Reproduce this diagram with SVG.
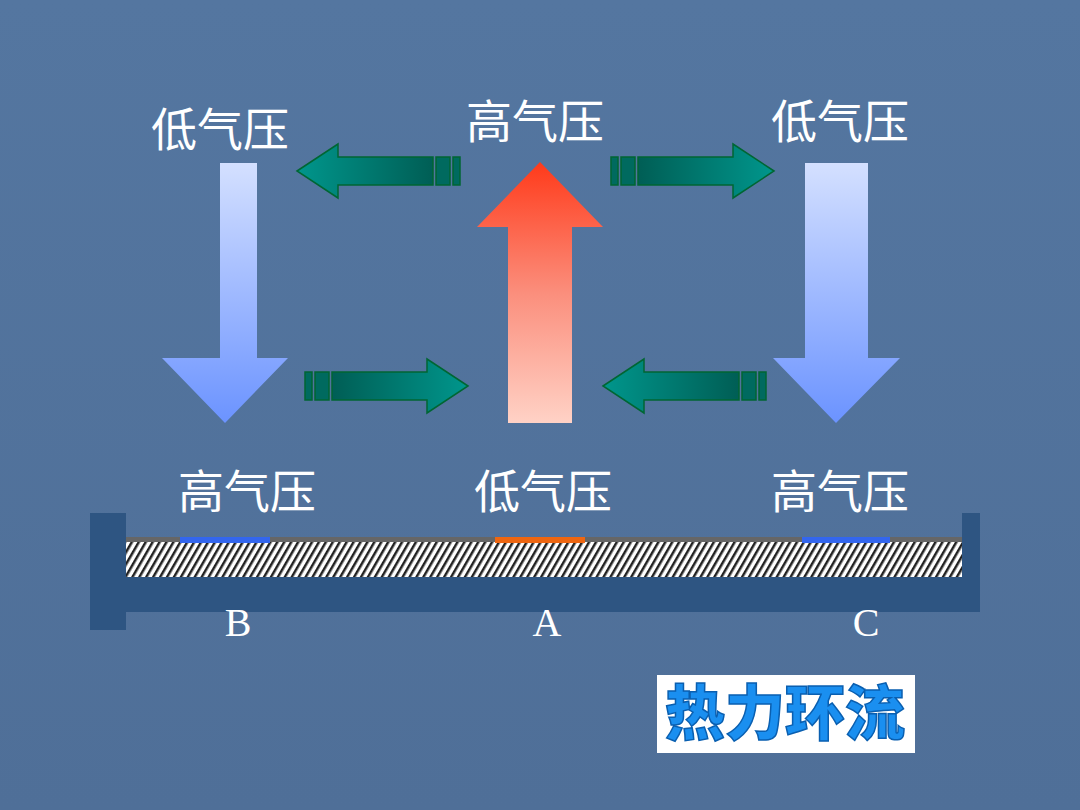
<svg xmlns="http://www.w3.org/2000/svg" width="1080" height="810" viewBox="0 0 1080 810">
<defs>
<linearGradient id="bg" x1="0" y1="0" x2="0" y2="1"><stop offset="0" stop-color="#5476a0"/><stop offset="1" stop-color="#4f6f98"/></linearGradient>
<linearGradient id="blue" x1="0" y1="0" x2="0" y2="1"><stop offset="0" stop-color="#d4e0ff"/><stop offset="1" stop-color="#6b93ff"/></linearGradient>
<linearGradient id="red" x1="0" y1="0" x2="0" y2="1"><stop offset="0" stop-color="#ff3a1a"/><stop offset="0.5" stop-color="#fb8e7c"/><stop offset="1" stop-color="#ffd2c6"/></linearGradient>
<linearGradient id="gl" x1="0" y1="0" x2="1" y2="0"><stop offset="0" stop-color="#00968c"/><stop offset="1" stop-color="#005e55"/></linearGradient>
<linearGradient id="gr" x1="1" y1="0" x2="0" y2="0"><stop offset="0" stop-color="#00968c"/><stop offset="1" stop-color="#005e55"/></linearGradient>
<pattern id="hatch" width="6" height="6" patternUnits="userSpaceOnUse" patternTransform="rotate(30)"><rect width="6" height="6" fill="#fff"/><rect width="2.5" height="6" fill="#222"/></pattern>
<style>
.lbl{font-family:"Noto Sans CJK SC",sans-serif;font-size:46px;fill:#fff}
.ltr{font-family:"Liberation Serif",serif;font-size:40px;fill:#fff}
.ga{stroke:#006633;stroke-width:1.5}
</style>
</defs>
<rect width="1080" height="810" fill="url(#bg)"/>
<g id="labels">
<text class="lbl" x="220" y="146" text-anchor="middle">低气压</text>
<text class="lbl" x="535" y="138" text-anchor="middle">高气压</text>
<text class="lbl" x="840" y="138" text-anchor="middle">低气压</text>
<text class="lbl" x="247" y="508" text-anchor="middle">高气压</text>
<text class="lbl" x="543" y="508" text-anchor="middle">低气压</text>
<text class="lbl" x="840" y="508" text-anchor="middle">高气压</text>
</g>
<g id="ground">
<rect x="90" y="513" width="36" height="117" fill="#2e5582"/>
<rect x="962" y="513" width="18" height="99" fill="#2e5582"/>
<rect x="90" y="577" width="890" height="35" fill="#2e5582"/>
<rect x="126" y="542" width="836" height="35" fill="url(#hatch)"/>
<rect x="126" y="537" width="836" height="5" fill="#666"/>
<rect x="180" y="537" width="90" height="6" fill="#3366ee"/>
<rect x="495" y="537" width="90" height="6" fill="#ee6611"/>
<rect x="802" y="537" width="88" height="6" fill="#3366ee"/>
<text class="ltr" x="238" y="636" text-anchor="middle">B</text>
<text class="ltr" x="547" y="636" text-anchor="middle">A</text>
<text class="ltr" x="866" y="636" text-anchor="middle">C</text>
</g>
<g id="connectors">
<polygon id="downL" points="220,163 257,163 257,358 288,358 225,423 162,358 220,358" fill="url(#blue)"/>
<polygon id="downR" points="805,163 868,163 868,358 900,358 836,423 773,358 805,358" fill="url(#blue)"/>
<polygon id="up" points="540,162 603,227 572,227 572,423 508,423 508,227 477,227" fill="url(#red)"/>
<g class="ga">
<polygon points="297,171 338,144 338,157 433,157 433,185 338,185 338,198" fill="url(#gl)"/>
<rect x="436" y="157" width="14" height="28" fill="#006a5f"/><rect x="453" y="157" width="7" height="28" fill="#006a5f"/>
<polygon points="774,171 733,144 733,157 638,157 638,185 733,185 733,198" fill="url(#gr)"/>
<rect x="621" y="157" width="14" height="28" fill="#006a5f"/><rect x="611" y="157" width="7" height="28" fill="#006a5f"/>
<polygon points="468,386 427,359 427,372 332,372 332,400 427,400 427,413" fill="url(#gr)"/>
<rect x="315" y="372" width="14" height="28" fill="#006a5f"/><rect x="305" y="372" width="7" height="28" fill="#006a5f"/>
<polygon points="603,386 644,359 644,372 739,372 739,400 644,400 644,413" fill="url(#gl)"/>
<rect x="742" y="372" width="14" height="28" fill="#006a5f"/><rect x="759" y="372" width="7" height="28" fill="#006a5f"/>
</g>
</g>
<g id="title">
<rect x="657" y="675" width="258" height="78" fill="#fff"/>
<text x="785" y="735" text-anchor="middle" font-family="Noto Sans CJK SC,sans-serif" font-weight="900" font-size="60" fill="#1a8ff0" stroke="#0a5fb0" stroke-width="1.5">热力环流</text>
</g>
</svg>
